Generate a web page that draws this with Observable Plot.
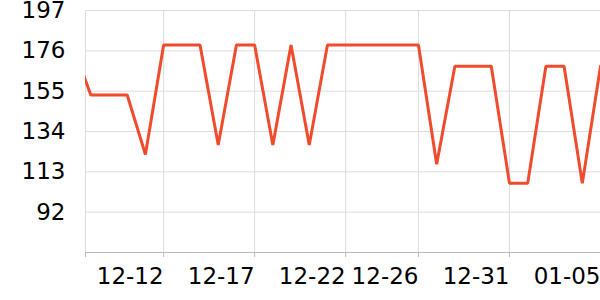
<!DOCTYPE html>
<html>
<head>
<meta charset="utf-8">
<script src="https://cdn.jsdelivr.net/npm/d3@7"></script>
<script src="https://cdn.jsdelivr.net/npm/@observablehq/plot@0.6"></script>
<style>
  html, body { margin: 0; padding: 0; background: #fff; }
  svg { display: block; }
</style>
</head>
<body>
<div id="chart"></div>
<script>
const dates = [
  "2023-12-07","2023-12-08","2023-12-09","2023-12-10","2023-12-11","2023-12-12",
  "2023-12-13","2023-12-14","2023-12-15","2023-12-16","2023-12-17","2023-12-18",
  "2023-12-19","2023-12-20","2023-12-21","2023-12-22","2023-12-23","2023-12-24",
  "2023-12-25","2023-12-26","2023-12-27","2023-12-28","2023-12-29","2023-12-30",
  "2023-12-31","2024-01-01","2024-01-02","2024-01-03","2024-01-04","2024-01-05"
];
const values = [
  179, 153, 153, 153, 122, 179,
  179, 179, 127, 179, 179, 127,
  179, 127, 179, 179, 179, 179,
  179, 179, 117, 168, 168, 168,
  107, 107, 168, 168, 107, 168
];
const xTickDates = ["2023-12-12","2023-12-17","2023-12-22","2023-12-26","2023-12-31","2024-01-05"];
const yTickValues = [92, 113, 134, 155, 176, 197];
const xDomain = ["2023-12-07T17:00:00Z", "2024-01-05T00:00:00Z"];
const yDomain = [71, 197];

const data = dates.map((d, i) => ({date: new Date(d + "T00:00:00Z"), value: values[i]}));
const xTicks = xTickDates.map(d => new Date(d + "T00:00:00Z"));
const xDom = xDomain.map(d => new Date(d));
const fmt = d3.utcFormat("%m-%d");
const startMs = xDom[0].getTime();

const chart = Plot.plot({
  width: 600,
  height: 300,
  marginLeft: 85,
  marginRight: 0,
  marginTop: 10,
  marginBottom: 48,
  style: {fontFamily: "DejaVu Sans", fontSize: "23px", background: "#fff", overflow: "visible"},
  x: {type: "utc", domain: xDom, label: null},
  y: {domain: yDomain, label: null},
  marks: [
    Plot.gridY(yTickValues, {stroke: "#dcdcdc", strokeOpacity: 1}),
    Plot.gridX(xTicks, {stroke: "#dcdcdc", strokeOpacity: 1}),
    Plot.ruleX([xDom[0]], {stroke: "#dcdcdc"}),
    Plot.ruleY([yDomain[0]], {stroke: "#bbb", strokeWidth: 1.2}),
    Plot.axisX([xDom[0], ...xTicks], {
      tickFormat: d => (d.getTime() === startMs ? "" : fmt(d)),
      tickSize: 5, tickPadding: 10, textAnchor: "end",
      stroke: "#bbb", fill: "#000", fontSize: 23, label: null
    }),
    Plot.axisY(yTickValues, {tickSize: 0, tickPadding: 20, fill: "#000", fontSize: 23, label: null}),
    Plot.line(data, {
      x: "date", y: "value", stroke: "#ef4b2c", strokeWidth: 3,
      strokeLinejoin: "miter", clip: true
    })
  ]
});
document.getElementById("chart").appendChild(chart);
</script>
</body>
</html>
